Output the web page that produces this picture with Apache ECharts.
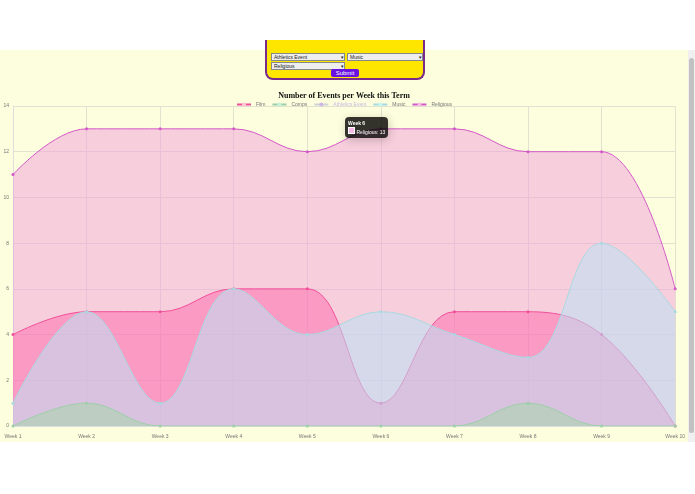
<!DOCTYPE html>
<html><head><meta charset="utf-8">
<script src="https://cdn.jsdelivr.net/npm/echarts@6/dist/echarts.min.js"></script>
<style>
body{margin:0;width:695px;height:494px;background:#fff;overflow:hidden;font-family:"Liberation Sans",Arial,sans-serif;position:relative}
#bg{position:absolute;left:0;top:50px;width:688px;height:392px;background:#fcfedd}
#sb{position:absolute;left:688px;top:50px;width:7px;height:392px;background:#f0f0f0}
#sb div{position:absolute;left:1px;top:8px;width:5px;height:375px;background:#c1c1c1;border-radius:3px}
#form{position:absolute;left:265px;top:40px;width:156px;height:38px;background:#ffe600;border:2px solid #7a2a8a;border-top:none;border-radius:0 0 8px 8px}
.sel{position:absolute;height:6px;background:#eee;border:1px solid #888;font-size:5px;line-height:6px;padding-left:2px;color:#222}
#btn{position:absolute;left:64px;top:29px;width:28px;height:8px;background:#6a10e0;color:#fff;font-size:6px;line-height:8px;text-align:center;border-radius:2px}
#chart{position:absolute;left:0;top:84px;width:688px;height:358px}
</style></head><body>
<div id="bg"></div><div id="sb"><div></div></div>
<div id="form">
<div class="sel" style="left:4px;top:13px;width:70px">Athletics Event<span style="float:right">▾</span></div>
<div class="sel" style="left:80px;top:13px;width:72px">Music<span style="float:right">▾</span></div>
<div class="sel" style="left:4px;top:22px;width:70px">Religious<span style="float:right">▾</span></div>
<div id="btn">Submit</div>
</div>
<div id="chart"></div>
<script>
const weeks=["Week 1","Week 2","Week 3","Week 4","Week 5","Week 6","Week 7","Week 8","Week 9","Week 10"];
const film=[4,5,5,6,6,1,5,5,4,0];
const comps=[0,1,0,0,0,0,0,1,0,0];
const athletics=[];
const music=[1,5,1,6,4,5,4,3,8,5];
const religious=[11,13,13,13,12,13,13,12,12,6];
const c=echarts.init(document.getElementById('chart'));
function s(name,data,line,fill,z){return {name,type:'line',data,smooth:0.4,z,symbol:'circle',symbolSize:3,
 lineStyle:{color:line,width:1},itemStyle:{color:line},areaStyle:{color:fill,opacity:1},emphasis:{disabled:true}};}
c.setOption({
 animation:false,
 title:{text:'Number of Events per Week this Term',left:'center',top:3,textStyle:{fontFamily:'Liberation Serif',fontSize:8,fontWeight:'bold',color:'#111'}},
 legend:{top:13,itemWidth:14,itemHeight:5,itemGap:6,textStyle:{fontSize:5,color:'#777'},selected:{'Athletics Event':false},
  data:[{name:'Film',itemStyle:{color:'#ffc9d3'}},{name:'Comps',itemStyle:{color:'#c6f3d8'}},{name:'Athletics Event',itemStyle:{color:'#cdb8e6'}},{name:'Music',itemStyle:{color:'#c6f7ee'}},{name:'Religious',itemStyle:{color:'#f7b9e6'}}],
  inactiveColor:'#cdb8e6'},
 tooltip:{trigger:'item',alwaysShowContent:true,backgroundColor:'rgba(0,0,0,0.8)',borderWidth:0,padding:[2,3],
  textStyle:{color:'#fff',fontSize:5},formatter:p=>'<b>'+p.name+'</b><br/><span style="display:inline-block;width:5px;height:5px;background:#f7b9e6;border:1px solid #fff"></span> '+p.seriesName+': '+p.value,
  position:(pt)=>[pt[0]-36,pt[1]-12]},
 grid:{left:13,right:11,top:22,bottom:16},
 xAxis:{type:'category',data:weeks,boundaryGap:false,axisLine:{lineStyle:{color:'#ddd'}},axisTick:{show:false},
  axisLabel:{fontSize:5,color:'#777'},splitLine:{show:true,lineStyle:{color:'#e2e2d0'}}},
 yAxis:{type:'value',min:0,max:14,interval:2,axisLine:{show:true,lineStyle:{color:'#ddd'}},axisLabel:{fontSize:5,color:'#777',margin:4},splitLine:{lineStyle:{color:'#e2e2d0'}}},
 series:[
  s('Religious',religious,'#d358c8','rgba(242,150,220,0.45)',1),
  s('Film',film,'#f0509a','rgba(255,100,170,0.5)',2),
  s('Athletics Event',athletics,'#9966cc','rgba(150,100,210,0.3)',3),
  s('Music',music,'#a8d8e0','rgba(185,225,245,0.55)',4),
  s('Comps',comps,'#9ccfa8','rgba(170,215,170,0.55)',5)
 ]
});
c.dispatchAction({type:'showTip',seriesIndex:0,dataIndex:5});
</script></body></html>
